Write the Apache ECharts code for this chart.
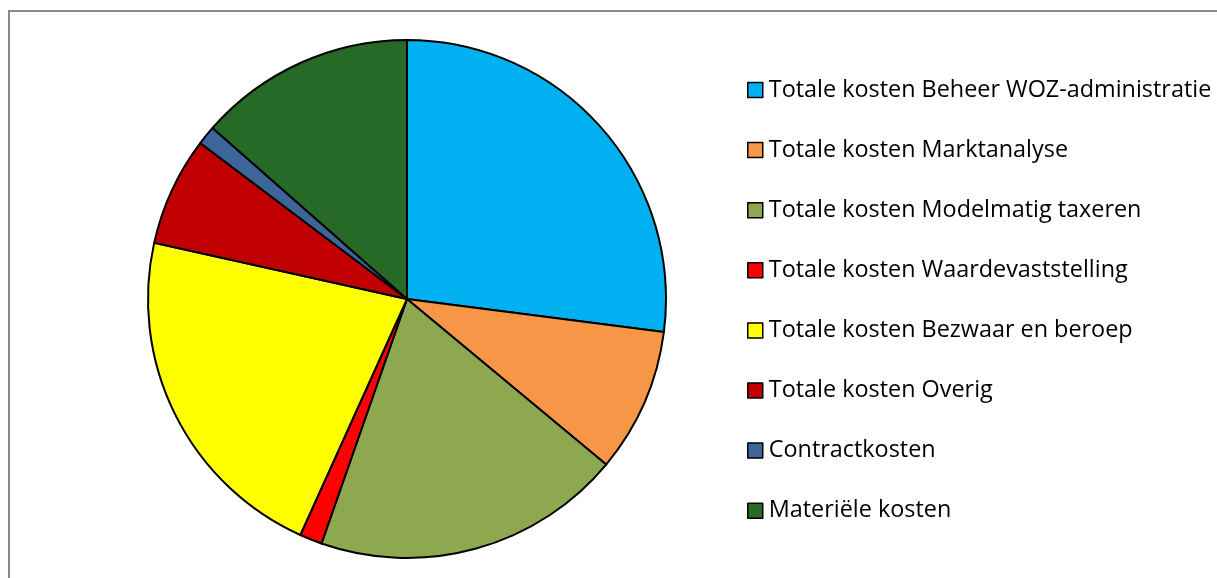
<!DOCTYPE html>
<html><head><meta charset="utf-8">
<script src="https://cdn.jsdelivr.net/npm/echarts@6/dist/echarts.min.js"></script>
<style>html,body{margin:0;padding:0;background:#fff}#c{width:1217px;height:578px}</style>
</head><body><div id="c"></div>
<script>
const categories = ["Totale kosten Beheer WOZ-administratie","Totale kosten Marktanalyse","Totale kosten Modelmatig taxeren","Totale kosten Waardevaststelling","Totale kosten Bezwaar en beroep","Totale kosten Overig","Contractkosten","Materiële kosten"];
const values = [27.0, 9.0, 19.3, 1.4, 21.7, 6.8, 1.2, 13.5];
const colors = ["#00B0F0","#F79646","#8EA850","#FF0000","#FFFF00","#C00000","#3C6699","#276A27"];
const chart = echarts.init(document.getElementById('c'), null, {renderer:'canvas'});
chart.setOption({
  animation:false,
  color: colors,
  graphic:[{type:'rect', shape:{x:9,y:11,width:1400,height:800}, style:{fill:'none',stroke:'#898989',lineWidth:2}, silent:true}],
  legend:{orient:'vertical', left:742, top:72, itemWidth:15, itemHeight:15, itemGap:34.1, icon:'rect',
    itemStyle:{borderColor:'#000',borderWidth:1.5},
    textStyle:{fontFamily:'Open Sans', fontSize:23.4, color:'#000', lineHeight:26, padding:[0,0,0,1]},
    data: categories},
  series:[{type:'pie', center:[407,299], radius:259, startAngle:90, clockwise:true,
    label:{show:false}, labelLine:{show:false}, emphasis:{disabled:true},
    itemStyle:{borderColor:'#000', borderWidth:2},
    data: categories.map((n,i)=>({name:n, value:values[i]}))}]
});
</script></body></html>
